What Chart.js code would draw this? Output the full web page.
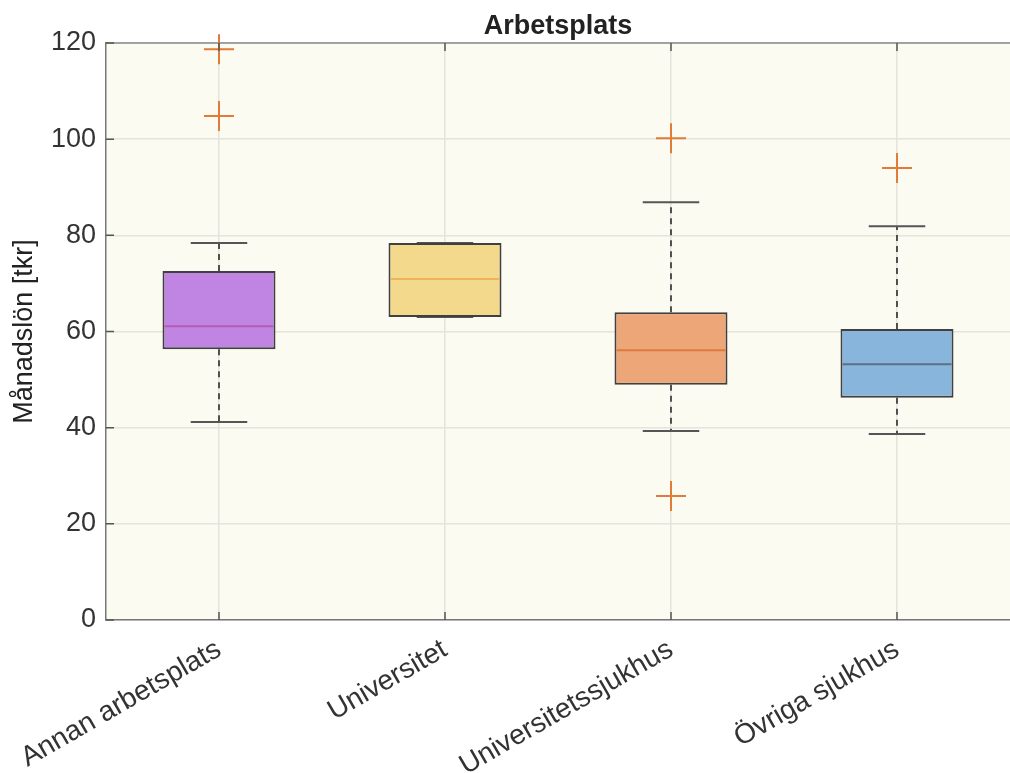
<!DOCTYPE html>
<html>
<head>
<meta charset="utf-8">
<script src="https://cdn.jsdelivr.net/npm/chart.js@4"></script>
<style>
  body { margin: 0; background: #fff; }
  #wrap { width: 1010px; height: 773px; }
</style>
</head>
<body>
<div id="wrap"><canvas id="boxChart"></canvas></div>
<script>
// data
const categories = ["Annan arbetsplats", "Universitet", "Universitetssjukhus", "Övriga sjukhus"];
const q1 = [56.3, 63.0, 48.9, 46.2];
const q3 = [72.6, 78.4, 64.0, 60.5];
const medians = [61.1, 70.9, 56.1, 53.2];
const whiskerLow = [41.2, 63.0, 39.3, 38.7];
const whiskerHigh = [78.4, 78.4, 86.9, 81.9];
const outliers = [[118.7, 104.8], [], [100.2, 25.8], [94.0]];
const yTicks = [0, 20, 40, 60, 80, 100, 120];
const chartTitle = "Arbetsplats";

const boxColors = ["#c084e3", "#f3d98b", "#eda678", "#88b5db"];
const medianColors = ["#b95bb5", "#efb35a", "#df7a3c", "#5d7088"];
const FONT = "'Liberation Sans', Arial, sans-serif";

// outliers as points on the category axis
let outlierPoints = [];
categories.forEach((c, i) => {
  outliers[i].forEach(v => outlierPoints.push({ x: c, y: v }));
});

// plot background, whiskers, medians, frame, title over the plot
const boxExtras = {
  id: "boxExtras",
  beforeDraw(chart) {
    const { ctx, chartArea: a } = chart;
    ctx.save();
    ctx.fillStyle = "#fcfbf1";
    ctx.fillRect(a.left, a.top, a.right - a.left, a.bottom - a.top);
    ctx.restore();
  },
  beforeDatasetsDraw(chart) {
    const { ctx, scales } = chart;
    const bars = chart.getDatasetMeta(0).data;
    ctx.save();
    categories.forEach((c, i) => {
      let x = scales.x.getPixelForValue(i);
      let capHalf = bars[i].width / 4;
      // dashed whiskers
      ctx.strokeStyle = "#2a2a2a";
      ctx.lineWidth = 1.6;
      ctx.setLineDash([6, 5]);
      ctx.beginPath();
      ctx.moveTo(x, scales.y.getPixelForValue(q3[i]));
      ctx.lineTo(x, scales.y.getPixelForValue(whiskerHigh[i]));
      ctx.moveTo(x, scales.y.getPixelForValue(q1[i]));
      ctx.lineTo(x, scales.y.getPixelForValue(whiskerLow[i]));
      ctx.stroke();
      // caps
      ctx.setLineDash([]);
      ctx.strokeStyle = "#555";
      ctx.lineWidth = 2;
      ctx.beginPath();
      [whiskerHigh[i], whiskerLow[i]].forEach(v => {
        let y = scales.y.getPixelForValue(v);
        ctx.moveTo(x - capHalf, y);
        ctx.lineTo(x + capHalf, y);
      });
      ctx.stroke();
    });
    ctx.restore();
  },
  afterDatasetsDraw(chart) {
    const { ctx, scales, chartArea: a } = chart;
    const bars = chart.getDatasetMeta(0).data;
    ctx.save();
    // medians
    categories.forEach((c, i) => {
      let x = scales.x.getPixelForValue(i);
      let half = bars[i].width / 2;
      let y = scales.y.getPixelForValue(medians[i]);
      ctx.strokeStyle = medianColors[i];
      ctx.lineWidth = 2;
      ctx.beginPath();
      ctx.moveTo(x - half + 2, y);
      ctx.lineTo(x + half - 2, y);
      ctx.stroke();
    });
    // top frame line
    ctx.strokeStyle = "#8a8a8a";
    ctx.lineWidth = 1.5;
    ctx.beginPath();
    ctx.moveTo(a.left, a.top);
    ctx.lineTo(a.right, a.top);
    ctx.stroke();
    // inner tick marks
    ctx.strokeStyle = "#555";
    ctx.lineWidth = 1.5;
    ctx.beginPath();
    yTicks.forEach(v => {
      let y = scales.y.getPixelForValue(v);
      ctx.moveTo(a.left, y);
      ctx.lineTo(a.left + 8, y);
    });
    categories.forEach((c, i) => {
      let x = scales.x.getPixelForValue(i);
      ctx.moveTo(x, a.bottom);
      ctx.lineTo(x, a.bottom - 8);
      ctx.moveTo(x, a.top);
      ctx.lineTo(x, a.top + 8);
    });
    ctx.stroke();
    // title centred over the plot area
    ctx.fillStyle = "#222";
    ctx.font = "bold 27px " + FONT;
    ctx.textAlign = "center";
    ctx.textBaseline = "middle";
    ctx.fillText(chartTitle, (a.left + a.right) / 2, 27);
    ctx.restore();
  }
};

new Chart(document.getElementById("boxChart"), {
  type: "bar",
  data: {
    labels: categories,
    datasets: [
      {
        type: "bar",
        data: categories.map((c, i) => [q1[i], q3[i]]),
        backgroundColor: boxColors,
        borderColor: "#404040",
        borderWidth: 2,
        borderSkipped: false,
        barPercentage: 0.5,
        categoryPercentage: 1.0,
        order: 1
      },
      {
        type: "line",
        data: outlierPoints,
        showLine: false,
        clip: false,
        pointStyle: "cross",
        pointRadius: 15,
        pointHoverRadius: 15,
        pointBorderWidth: 2,
        borderColor: "#e07b39",
        backgroundColor: "#e07b39",
        order: 0
      }
    ]
  },
  options: {
    responsive: true,
    maintainAspectRatio: false,
    animation: false,
    events: [],
    layout: { autoPadding: false, padding: { top: 43, right: 0, left: 0, bottom: 0 } },
    plugins: {
      legend: { display: false },
      tooltip: { enabled: false },
      title: { display: false }
    },
    scales: {
      x: {
        offset: true,
        grid: { offset: false, color: "#e4e4dc", lineWidth: 1.5, drawTicks: false },
        border: { color: "#777", width: 1.5 },
        ticks: {
          minRotation: 30,
          maxRotation: 30,
          padding: 13,
          color: "#333",
          font: { family: FONT, size: 28 }
        },
        afterFit(scale) {
          scale.height = 153;
          scale.paddingLeft = 0;
          scale.paddingRight = 0;
        }
      },
      y: {
        min: 0,
        max: 120,
        grid: { color: "#e4e4dc", lineWidth: 1.5, drawTicks: false },
        border: { color: "#777", width: 1.5 },
        afterBuildTicks(scale) { scale.ticks = yTicks.map(v => ({ value: v })); },
        ticks: {
          padding: 10,
          color: "#333",
          font: { family: FONT, size: 27 }
        },
        title: {
          display: true,
          text: "Månadslön [tkr]",
          color: "#222",
          font: { family: FONT, size: 27 },
          padding: { top: 8, bottom: 0 }
        },
        afterFit(scale) {
          scale.width = 106;
          scale.paddingTop = 0;
          scale.paddingBottom = 0;
        }
      }
    }
  },
  plugins: [boxExtras]
});
</script>
</body>
</html>
